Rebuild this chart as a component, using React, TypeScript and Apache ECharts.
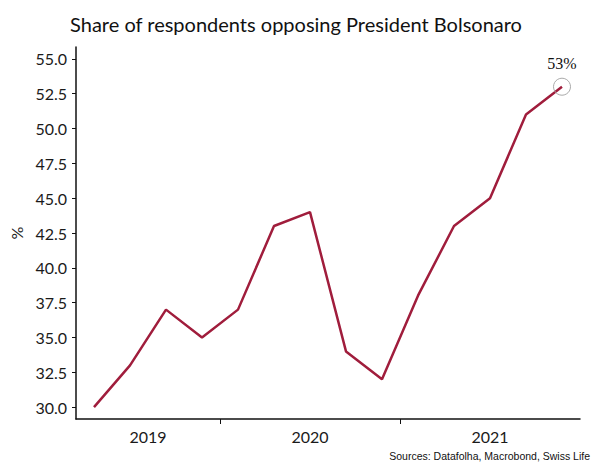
import React, { useEffect, useRef } from "react";
import * as echarts from "echarts";

// Survey dates (fractional years) and share of respondents opposing (%)
const surveyDates = [2019.3, 2019.5, 2019.7, 2019.9, 2020.1, 2020.3, 2020.5, 2020.7, 2020.9, 2021.1, 2021.3, 2021.5, 2021.7, 2021.9];
const opposingShare = [30, 33, 37, 35, 37, 43, 44, 34, 32, 38, 43, 45, 51, 53];
const yearLabels = ["2019", "2020", "2021"];
const yearLabelPositions = [2019.6, 2020.5, 2021.5];
const yearBoundaries = [2020, 2021];
const yTicks = [30, 32.5, 35, 37.5, 40, 42.5, 45, 47.5, 50, 52.5, 55];

const TITLE = "Share of respondents opposing President Bolsonaro";
const SOURCE = "Sources: Datafolha, Macrobond, Swiss Life";
const LINE_COLOR = "#a01d3c";
const FONT = "Lato";

export default function App() {
  const ref = useRef<HTMLDivElement>(null);
  useEffect(() => {
    if (!ref.current) return;
    const chart = echarts.init(ref.current, undefined, { renderer: "svg" });
    const lastIdx = opposingShare.length - 1;
    chart.setOption({
      animation: false,
      backgroundColor: "#ffffff",
      title: {
        text: TITLE,
        left: "center",
        top: 9,
        textStyle: { fontFamily: FONT, fontSize: 20, fontWeight: "normal", color: "#111" },
      },
      grid: { left: 70, right: 12, top: 47, bottom: 45, containLabel: false },
      xAxis: {
        type: "value",
        min: 2019.2,
        max: 2022.0,
        axisLine: { show: true, lineStyle: { color: "#111", width: 1.5 } },
        axisTick: { show: true, customValues: yearBoundaries, length: 5, lineStyle: { color: "#111", width: 1 } },
        axisLabel: {
          customValues: yearLabelPositions,
          formatter: (v: number) => {
            const i = yearLabelPositions.findIndex((p) => Math.abs(p - v) < 1e-6);
            return i >= 0 ? yearLabels[i] : "";
          },
          fontFamily: FONT,
          fontSize: 16,
          color: "#1a1a1a",
          margin: 9,
        },
        splitLine: { show: false },
      },
      yAxis: {
        type: "value",
        min: 29.15,
        max: 55.85,
        name: "%",
        nameLocation: "middle",
        nameRotate: 90,
        nameGap: 52,
        nameTextStyle: { fontFamily: FONT, fontSize: 16, color: "#1a1a1a" },
        axisLine: { show: true, lineStyle: { color: "#111", width: 1.5 } },
        axisTick: { show: true, customValues: yTicks, length: 4, lineStyle: { color: "#111", width: 1 } },
        axisLabel: {
          customValues: yTicks,
          formatter: (v: number) => v.toFixed(1),
          fontFamily: FONT,
          fontSize: 16,
          color: "#1a1a1a",
          margin: 9,
        },
        splitLine: { show: false },
      },
      series: [
        {
          type: "line",
          data: surveyDates.map((d, i) => [d, opposingShare[i]]),
          symbol: "none",
          lineStyle: { color: LINE_COLOR, width: 2.5 },
          markPoint: {
            symbol: "circle",
            symbolSize: 17,
            itemStyle: { color: "rgba(255,255,255,0)", borderColor: "#aaaaaa", borderWidth: 1 },
            label: {
              show: true,
              position: "top",
              distance: 6,
              formatter: () => `${opposingShare[lastIdx]}%`,
              fontFamily: "Liberation Serif",
              fontSize: 16,
              color: "#111",
            },
            data: [{ coord: [surveyDates[lastIdx], opposingShare[lastIdx]] }],
          },
        },
      ],
      graphic: [
        {
          type: "text",
          right: 2,
          bottom: 3,
          style: { text: SOURCE, fontFamily: "Liberation Sans", fontSize: 10.5, fill: "#111" },
        },
      ],
    });
    return () => chart.dispose();
  }, []);
  return <div ref={ref} style={{ position: "absolute", left: 0, top: 0, width: 592, height: 464 }} />;
}
